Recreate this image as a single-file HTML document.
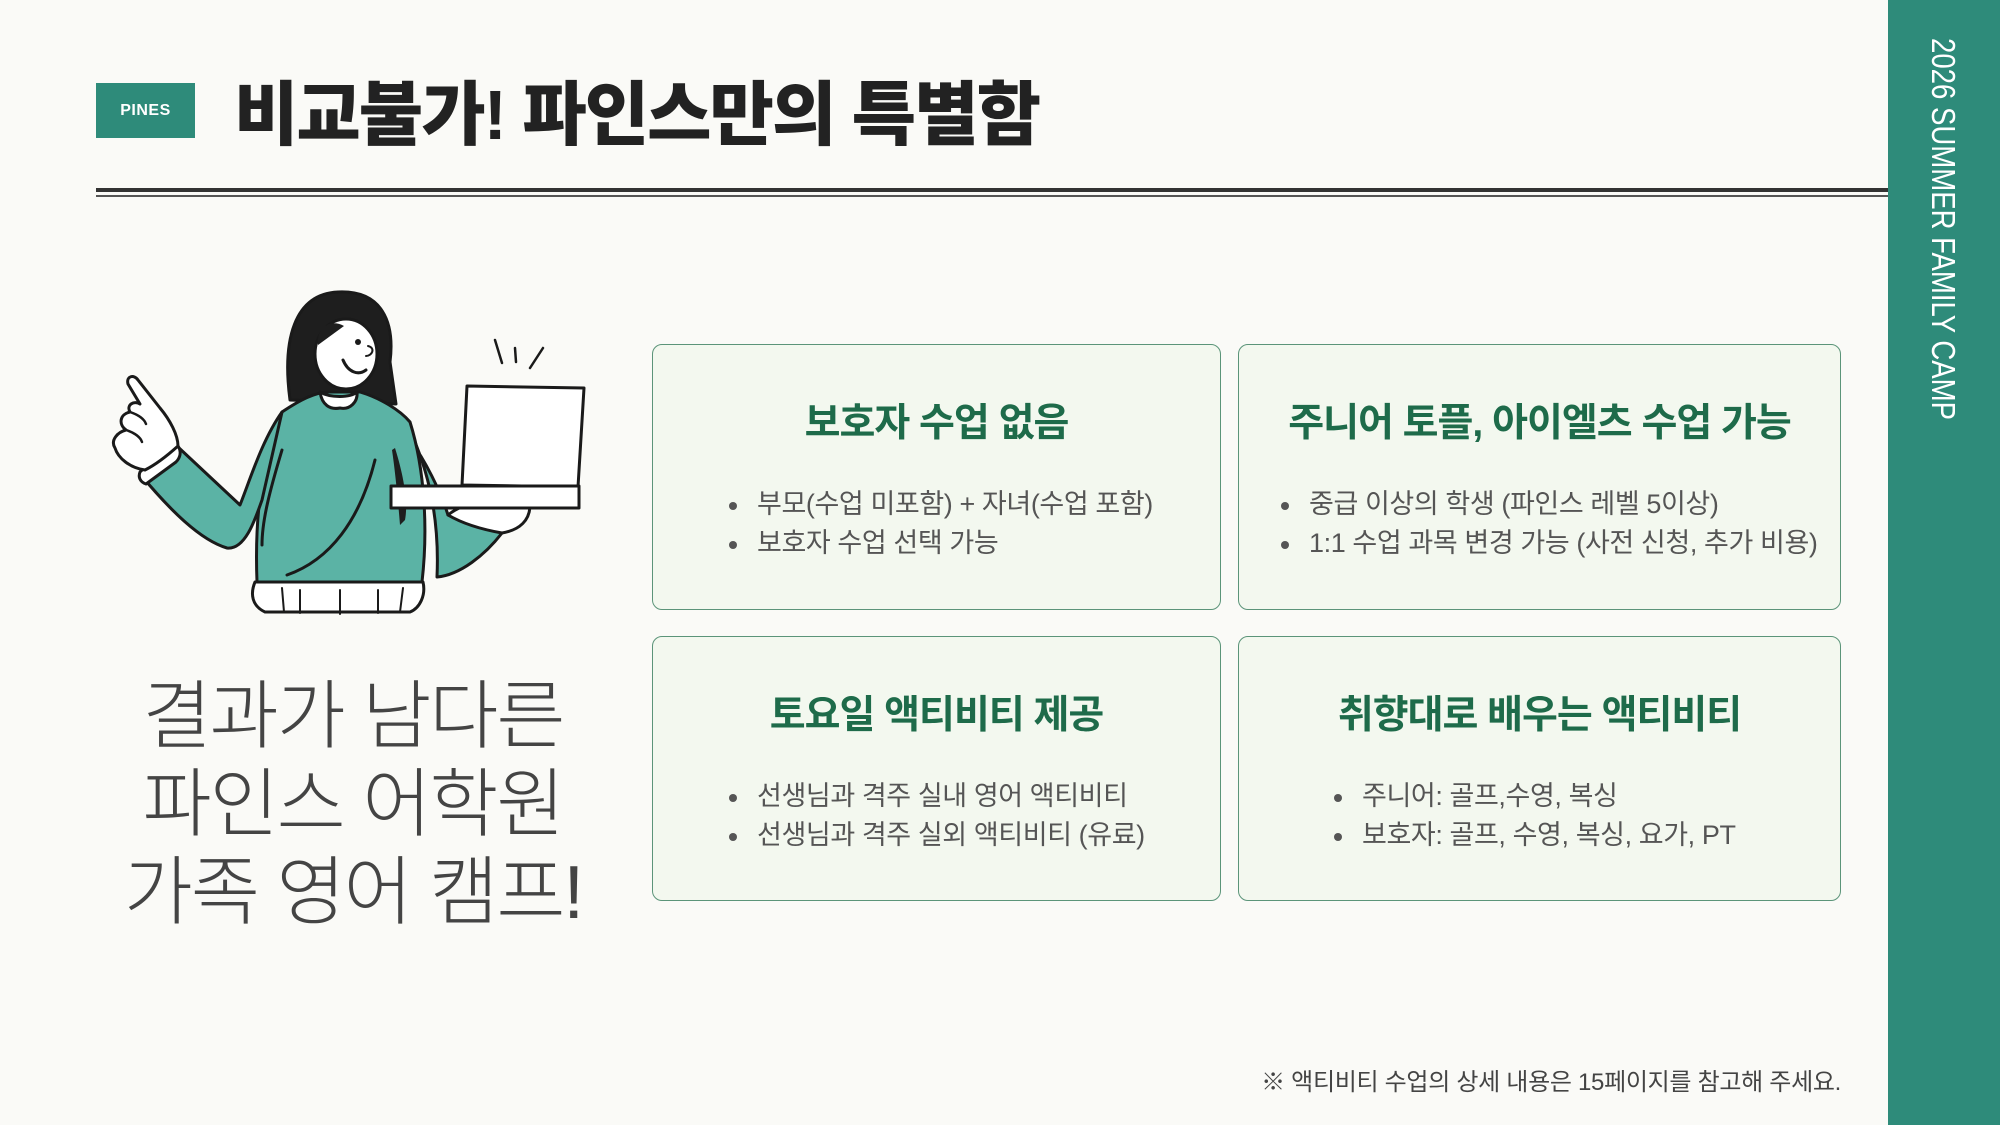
<!DOCTYPE html>
<html><head><meta charset="utf-8">
<style>
html,body{margin:0;padding:0}
body{width:2000px;height:1125px;background:#fafaf7;position:relative;overflow:hidden;font-family:"Liberation Sans","Noto Sans CJK KR",sans-serif}
.abs{position:absolute}
.pines{left:96px;top:83px;width:99px;height:55px;background:#2e8b7a;color:#fff;font-weight:bold;font-size:16px;line-height:55px;text-align:center;letter-spacing:0.5px}
.title{left:234px;top:70px;font-size:70px;font-weight:900;color:#222;letter-spacing:-2px;line-height:90px;white-space:nowrap}
.bar{left:1888px;top:0;width:112px;height:1125px;background:#2e8b7a}
.card{position:absolute;background:#f3f8ef;border:1.5px solid #5b9479;border-radius:10px;box-sizing:border-box}
.card h3{margin:0;position:absolute;left:0;right:0;top:47px;text-align:center;font-size:39px;font-weight:bold;color:#1e6b4a;letter-spacing:-1px;white-space:nowrap}
.card ul{position:absolute;margin:0;padding:0;list-style:none;top:140px;font-size:27px;color:#555;line-height:39px;white-space:nowrap;letter-spacing:-0.4px}
.card li{position:relative;padding-left:28px}
.card li:before{content:"";position:absolute;left:0;top:17px;width:8px;height:8px;border-radius:50%;background:#555}
.big{left:100px;width:506px;top:672px;text-align:center;font-size:75px;line-height:88px;color:#444;font-weight:300;letter-spacing:-2px;white-space:nowrap}
.foot{right:159px;top:1062px;font-size:24px;color:#444;white-space:nowrap;letter-spacing:-0.3px}
</style></head><body>
<div class="abs pines">PINES</div>
<div class="abs title">비교불가! 파인스만의 특별함</div>
<div class="abs" style="left:96px;top:188px;width:1792px;height:4px;background:#333"></div>
<div class="abs" style="left:96px;top:195px;width:1792px;height:2px;background:#555"></div>
<div class="abs bar"></div>
<svg class="abs" style="left:1888px;top:0" width="112" height="1125">
<text transform="translate(44,38) rotate(90)" x="0" y="0" font-family="Liberation Sans, sans-serif" font-size="33" fill="#fff" textLength="382" lengthAdjust="spacingAndGlyphs">2026 SUMMER FAMILY CAMP</text>
</svg>

<div class="card" style="left:652px;top:344px;width:569px;height:266px">
<h3>보호자 수업 없음</h3>
<ul style="left:76px"><li>부모(수업 미포함) + 자녀(수업 포함)</li><li>보호자 수업 선택 가능</li></ul></div>
<div class="card" style="left:1238px;top:344px;width:603px;height:266px">
<h3>주니어 토플, 아이엘츠 수업 가능</h3>
<ul style="left:42px"><li>중급 이상의 학생 (파인스 레벨 5이상)</li><li>1:1 수업 과목 변경 가능 (사전 신청, 추가 비용)</li></ul></div>
<div class="card" style="left:652px;top:636px;width:569px;height:265px">
<h3>토요일 액티비티 제공</h3>
<ul style="left:76px"><li>선생님과 격주 실내 영어 액티비티</li><li>선생님과 격주 실외 액티비티 (유료)</li></ul></div>
<div class="card" style="left:1238px;top:636px;width:603px;height:265px">
<h3>취향대로 배우는 액티비티</h3>
<ul style="left:95px"><li>주니어: 골프,수영, 복싱</li><li>보호자: 골프, 수영, 복싱, 요가, PT</li></ul></div>

<div class="abs big">결과가 남다른<br>파인스 어학원<br>가족 영어 캠프!</div>
<div class="abs foot">※ 액티비티 수업의 상세 내용은 15페이지를 참고해 주세요.</div>

<svg class="abs" style="left:0;top:0" width="900" height="700" stroke="#1a1a1a" stroke-width="3" stroke-linejoin="round" stroke-linecap="round">
<path d="M290,400 C282,340 294,294 338,292 C382,290 395,322 390,362 L396,404 Z" fill="#1e1e1e"/>
<ellipse cx="346" cy="354" rx="31" ry="35" fill="#fff"/>
<path d="M318,345 C316,328 330,318 344,326" fill="#1e1e1e" stroke="none"/>
<circle cx="358" cy="342" r="3" fill="#1a1a1a" stroke="none"/>
<path d="M343,360 C348,372 358,376 366,370" fill="none"/>
<path d="M368,346 C376,348 372,356 366,356" fill="none" stroke-width="2"/>
<path d="M405,420 C425,460 440,510 437,577 C460,575 485,555 502,533 L448,515 C440,490 425,460 410,440 Z" fill="#5bb3a5"/>
<path d="M282,412 C300,400 315,392 330,392 L360,392 C380,398 400,410 410,422 C425,470 428,530 422,582 L257,582 C255,530 258,470 282,412 Z" fill="#5bb3a5"/>
<path d="M395,448 C405,480 408,505 405,520 L400,525 C398,500 395,470 392,450 Z" fill="#1e1e1e" stroke="none"/>
<path d="M375,460 C360,520 330,560 287,575" fill="none"/>
<path d="M282,450 C270,490 262,520 262,545" fill="none"/>
<path d="M282,412 C262,440 250,480 240,505 L178,447 L140,474 C170,510 200,540 227,548 C245,550 255,520 262,500 Z" fill="#5bb3a5"/>
<path d="M320,392 C322,405 330,410 340,408 C350,410 358,402 357,392 C350,398 330,398 320,392 Z" fill="#fff"/>
<path d="M140,472 C150,462 165,452 178,446 C182,452 180,458 176,462 L146,484 C140,482 138,477 140,472 Z" fill="#fff"/>
<path d="M145,470 C130,468 118,458 115,448 C110,440 118,432 126,430 C118,424 120,414 130,412 C126,405 134,400 140,404 L128,384 C126,376 134,374 138,380 L160,408 C170,420 178,435 178,446 C168,455 155,465 145,470 Z" fill="#fff"/>
<path d="M126,430 C132,432 140,436 142,442 M130,412 C136,414 144,418 146,424" fill="none" stroke-width="2.5"/>
<path d="M255,582 L423,582 C426,595 420,608 410,612 L265,612 C252,606 250,594 255,582 Z" fill="#fff"/>
<path d="M282,588 L284,612 M300,590 L300,613 M340,590 L340,614 M378,590 L378,613 M403,588 L400,612" fill="none" stroke-width="2"/>
<path d="M448,515 C460,505 480,500 505,500 L530,505 C530,520 520,530 502,533 C485,530 465,525 448,515 Z" fill="#fff"/>
<path d="M467,386 L584,388 L578,487 L462,485 Z" fill="#fff"/>
<rect x="391" y="486" width="188" height="22" fill="#fff"/>
<path d="M495,340 L502,363 M515,348 L516,362 M543,348 L530,368" fill="none" stroke-width="2.5"/>
</svg>
</body></html>
